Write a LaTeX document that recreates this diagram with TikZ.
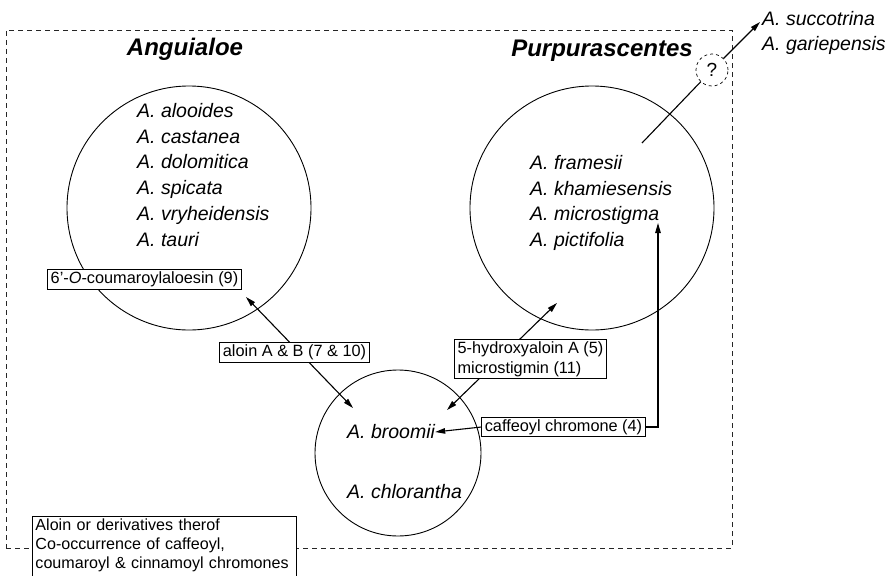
\documentclass[tikz,border=0pt]{standalone}
\usepackage{fontspec}
\setmainfont{Liberation Sans}
\usetikzlibrary{positioning, arrows.meta}
\tikzstyle{grouptitle} =[font=\fontsize{24}{28}\selectfont\bfseries\itshape]
\tikzstyle{group} =[circle, draw, line width=0.9pt, inner sep=0pt]
\tikzstyle{species} =[align=left, inner sep=0pt, font=\fontsize{19.5}{25.8}\selectfont\itshape]
\tikzstyle{compound} =[draw, fill=white, line width=0.9pt, inner xsep=3pt, inner ysep=2pt, font=\fontsize{16.3}{20}\selectfont]
\tikzstyle{link} =[line width=1.1pt]

\begin{document}
\begin{tikzpicture}[x=1pt, y=-1pt, >={Triangle[length=10pt, width=5.5pt]}]
\useasboundingbox (0,0) rectangle (895,576);

\node (frame) [draw, black!85, dash pattern=on 5pt off 4pt, line width=0.8pt, minimum width=726pt, minimum height=518pt, inner sep=0pt] at (369,289) {};

\node (angTitle) [grouptitle] at (185,49) {Anguialoe};
\node (purpTitle) [grouptitle] at (602,51) {Purpurascentes};

\node (angCircle) [group, minimum size=244pt] at (189,208) {};
\node (angList) [species, anchor=north west] at (137,103) {A. alooides\\A. castanea\\A. dolomitica\\A. spicata\\A. vryheidensis\\A. tauri};

\node (purpCircle) [group, minimum size=244pt] at (592,208) {};
\node (purpList) [species, anchor=north west] at (530,155) {A. framesii\\A. khamiesensis\\A. microstigma\\A. pictifolia};

\node (broomCircle) [group, minimum size=166pt] at (398,453) {};
\node (broomii) [species, anchor=west] at (347,432) {A. broomii};
\node (chlorantha) [species, anchor=west] at (347,492) {A. chlorantha};

\node (qmark) [circle, draw, dashed, line width=0.7pt, minimum size=32pt, inner sep=0pt, font=\fontsize{19}{20}\selectfont] at (712,70) {?};
\node (succotrina) [species, anchor=base west] at (762,25) {A. succotrina};
\node (gariepensis) [species, anchor=base west] at (762,50) {A. gariepensis};

% free ends inside the circles
\coordinate (angTip) at (246,297);
\coordinate (broomTipA) at (353,408);
\coordinate (purpTip) at (557,303);
\coordinate (broomTipB) at (447,410);
\coordinate (microTip) at (658,223);
\coordinate (purpStart) at (642,143);
\coordinate (succTip) at (760,22);

\draw[link, <->] (angTip) -- (broomTipA);
\draw[link, <->] (purpTip) -- (broomTipB);
\draw[link] (purpStart) -- (qmark);
\draw[link, ->] (qmark) -- (succTip);

\node (aloinBox) [compound] at (294.5,352.5) {aloin A \& B (7 \& 10)};
\node (hydroxBox) [compound, align=left] at (530.5,359) {5-hydroxyaloin A (5)\\microstigmin (11)};
\node (caffBox) [compound] at (563.5,427) {caffeoyl chromone (4)};
\node (coumBox) [compound] at (144.5,279.5) {6'-\textit{O}-coumaroylaloesin (9)};

\draw[link, ->] (caffBox.west) -- (broomii.east);
\draw[link, ->] (caffBox.east) -| (microTip);

%legend
\node (legend) [compound, anchor=north west, align=left, text width=258pt, font=\fontsize{16.1}{19}\selectfont] at (32,516) {Aloin or derivatives therof\\Co-occurrence of caffeoyl,\\coumaroyl \& cinnamoyl chromones\rule[-24pt]{0pt}{24pt}};

\end{tikzpicture}
\end{document}
